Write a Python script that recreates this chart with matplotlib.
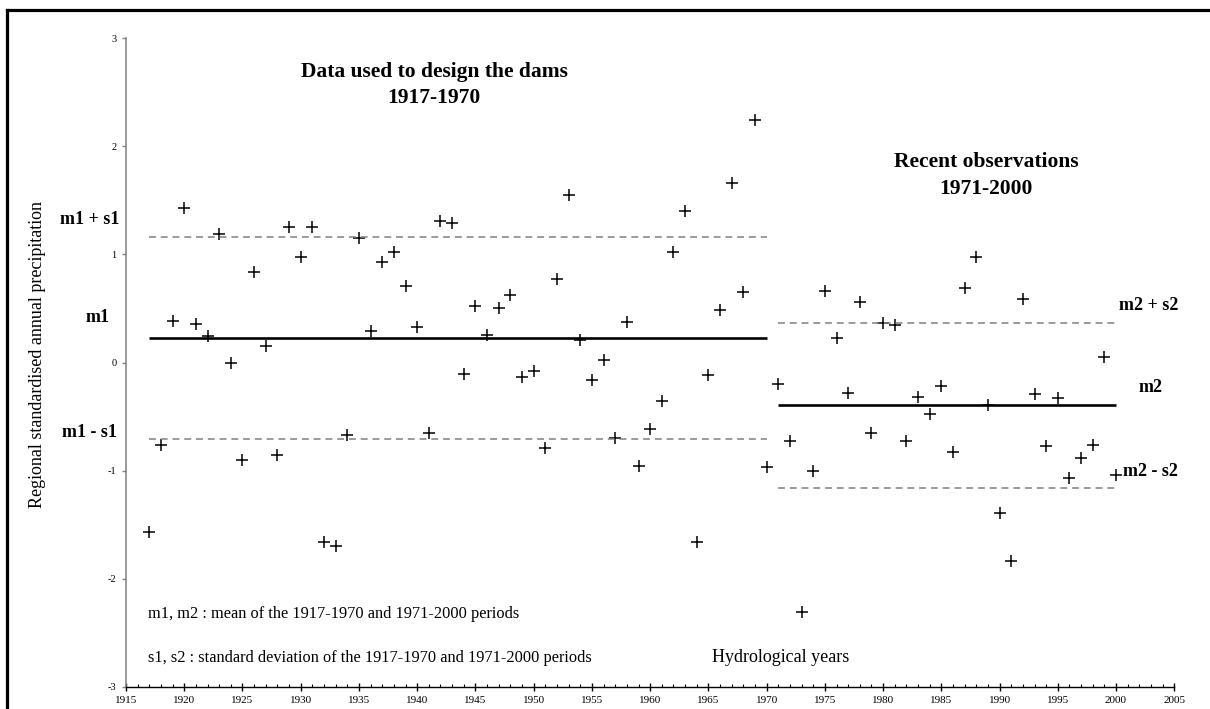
import matplotlib
matplotlib.use("Agg")
import matplotlib.pyplot as plt
from matplotlib.lines import Line2D

plt.rcParams["axes.unicode_minus"] = False

# ---------------- data ----------------
years_design = list(range(1917, 1971))
precip_design = [
    -1.567, -0.765, 0.385, 1.427, 0.357, 0.246, 1.193, 0.000, -0.904, 0.835,
    0.154, -0.855, 1.255, 0.977, 1.255, -1.662, -1.700, -0.673, 1.150, 0.293,
    0.928, 1.027, 0.709, 0.324, -0.657, 1.310, 1.295, -0.111, 0.524, 0.255,
    0.500, 0.629, -0.133, -0.080, -0.790, 0.770, 1.550, 0.206, -0.164, 0.021,
    -0.700, 0.379, -0.959, -0.614, -0.358, 1.027, 1.400, -1.660, -0.120, 0.490,
    1.660, 0.653, 2.240, -0.965,
]
years_recent = list(range(1971, 2001))
precip_recent = [
    -0.198, -0.731, -2.313, -1.003, 0.663, 0.231, -0.284, 0.558, -0.657, 0.366,
    0.345, -0.731, -0.318, -0.472, -0.222, -0.827, 0.687, 0.980, -0.389, -1.397,
    -1.841, 0.592, -0.296, -0.774, -0.333, -1.073, -0.882, -0.762, 0.052, -1.040,
]
m1, s1 = 0.225, 0.936
m2, s2 = -0.395, 0.765

x_major_ticks = list(range(1915, 2006, 5))
y_major_ticks = [-3, -2, -1, 0, 1, 2, 3]

# ---------------- figure ----------------
W, H = 1210, 709
fig = plt.figure(figsize=(W / 100, H / 100), dpi=100)
fig.patch.set_facecolor("white")

def fx(px):
    return px / W

def fy(py):
    return 1 - py / H

ax = fig.add_axes([fx(126), fy(686.7), fx(1174.3) - fx(126), fy(38.3) - fy(686.7)])
ax.set_xlim(1915, 2005)
ax.set_ylim(-3, 3)

serif = ["Liberation Serif", "DejaVu Serif"]

# points
ax.plot(years_design, precip_design, linestyle="none", marker="+",
        color="black", markersize=9, markeredgewidth=1.1)
ax.plot(years_recent, precip_recent, linestyle="none", marker="+",
        color="black", markersize=9, markeredgewidth=1.1)

# mean and +/- std lines
dash = (4.5, 3.2)
x1 = [years_design[0], years_design[-1]]
x2 = [years_recent[0], years_recent[-1]]
ax.plot(x1, [m1, m1], color="black", lw=1.9, solid_capstyle="butt")
ax.plot(x1, [m1 + s1] * 2, color="#808080", lw=1.1, linestyle=(0, dash))
ax.plot(x1, [m1 - s1] * 2, color="#808080", lw=1.1, linestyle=(0, dash))
ax.plot(x2, [m2, m2], color="black", lw=1.9, solid_capstyle="butt")
ax.plot(x2, [m2 + s2] * 2, color="#808080", lw=1.1, linestyle=(0, dash))
ax.plot(x2, [m2 - s2] * 2, color="#808080", lw=1.1, linestyle=(0, dash))

# axes styling
for side in ("top", "right"):
    ax.spines[side].set_visible(False)
ax.spines["left"].set_color("#808080")
ax.spines["left"].set_linewidth(1.1)
ax.spines["bottom"].set_color("black")
ax.spines["bottom"].set_linewidth(1.0)

ax.set_xticks(x_major_ticks)
ax.set_xticks(list(range(1915, 2006)), minor=True)
ax.set_yticks(y_major_ticks)
ax.tick_params(axis="x", which="major", direction="inout", length=6, width=1,
               pad=3.5, labelsize=8)
ax.tick_params(axis="x", which="minor", direction="in", length=2.5, width=0.8)
ax.tick_params(axis="y", which="major", direction="out", length=3, width=1,
               color="#808080", pad=4, labelsize=7.5)
for lab in ax.get_xticklabels() + ax.get_yticklabels():
    lab.set_fontfamily(serif)

ax.set_ylabel("Regional standardised annual precipitation", fontsize=13,
              family=serif)
ax.yaxis.set_label_coords((46 - 126) / 1048.3, (686.7 - 354) / 648.4)

# titles
tkw = dict(ha="center", va="center", fontsize=15.5, fontweight="bold", family=serif)
fig.text(fx(434), fy(72), "Data used to design the dams", **tkw)
fig.text(fx(434), fy(98), "1917-1970", **tkw)
fig.text(fx(986), fy(162), "Recent observations", **tkw)
fig.text(fx(986), fy(189.5), "1971-2000", **tkw)

# line labels
lab_kw = dict(fontsize=13, fontweight="bold", family=serif, va="center")
fig.text(fx(119), fy(220), "m1 + s1", ha="right", **lab_kw)
fig.text(fx(110), fy(317), "m1", ha="right", **lab_kw)
fig.text(fx(117), fy(432.5), "m1 - s1", ha="right", **lab_kw)
fig.text(fx(1119), fy(305.5), "m2 + s2", ha="left", **lab_kw)
fig.text(fx(1139), fy(387.5), "m2", ha="left", **lab_kw)
fig.text(fx(1123), fy(471.5), "m2 - s2", ha="left", **lab_kw)

# footnotes
fig.text(fx(148), fy(613.5), "m1, m2 : mean of the 1917-1970 and 1971-2000 periods",
         ha="left", va="center", fontsize=11.8, family=serif)
fig.text(fx(148), fy(658.5),
         "s1, s2 : standard deviation of the 1917-1970 and 1971-2000 periods",
         ha="left", va="center", fontsize=11.8, family=serif)
fig.text(fx(712.5), fy(657), "Hydrological years", ha="left", va="center",
         fontsize=13, family=serif)

# frame lines (top and left border of the picture)
fig.add_artist(Line2D([fx(7), 1.0], [fy(10), fy(10)], color="black", lw=2.3))
fig.add_artist(Line2D([fx(7), fx(7)], [fy(10), 0.0], color="black", lw=2.3))

fig.savefig("out.png", dpi=100, facecolor="white")
